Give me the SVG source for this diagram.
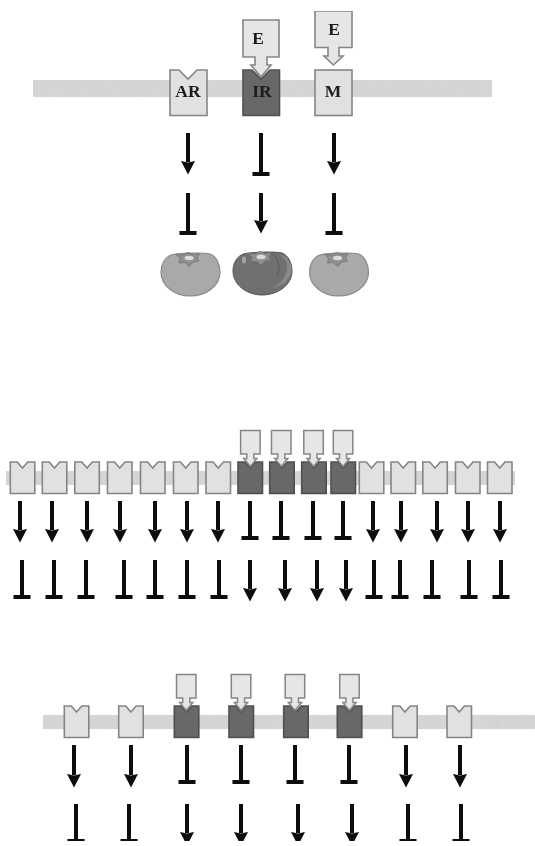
<svg xmlns="http://www.w3.org/2000/svg" width="535" height="846" viewBox="0 0 535 846">
<style>
.band{fill:#d6d6d6;filter:url(#mottle)}
.l{fill:#e1e1e1;stroke:#858585;stroke-width:1.600}
.d{fill:#676767;stroke:#505050;stroke-width:1.600}
.lig{fill:#e6e6e6;stroke:#858585;stroke-width:1.600}
.ligd{fill:#e6e6e6;stroke:#858585;stroke-width:1.500}
.a{stroke:#0a0a0a;stroke-width:4;fill:none;marker-end:url(#arrow)}
.t{stroke:#0a0a0a;stroke-width:4;fill:none;marker-end:url(#tee)}
text{font-family:"Liberation Serif",serif;font-weight:bold;font-size:17.500px;text-anchor:middle;fill:#1a1a1a}
.tom{fill:#a9a9a9;stroke:#8a8a8a;stroke-width:1.200}
.cal{fill:#8f8f8f;stroke:#6e6e6e;stroke-width:.8}
</style>
<defs>
<filter id="mottle" x="0" y="0" width="100%" height="100%"><feTurbulence type="fractalNoise" baseFrequency="0.12 0.25" numOctaves="2" seed="4" result="n"/><feColorMatrix in="n" type="matrix" values="0 0 0 0 .62  0 0 0 0 .62  0 0 0 0 .62  .9 0 0 0 -.33" result="c"/><feComposite in="c" in2="SourceGraphic" operator="in" result="m"/><feMerge><feMergeNode in="SourceGraphic"/><feMergeNode in="m"/></feMerge></filter>
<filter id="soft" x="0" y="0" width="100%" height="100%"><feGaussianBlur stdDeviation="0.55"/></filter>
<marker id="arrow" markerUnits="userSpaceOnUse" markerWidth="15" markerHeight="15" refX="1" refY="7.500" orient="auto"><path d="M0,0.500L13.500,7.500L0,14.500L1.500,7.500Z" fill="#0a0a0a"/></marker>
<marker id="tee" markerUnits="userSpaceOnUse" markerWidth="4" markerHeight="18" refX="2" refY="9" orient="auto"><rect x="0" y="0.500" width="4" height="17" fill="#0a0a0a"/></marker>
<polygon id="rec" points="0,0 7,0 12.200,6 17.500,0 24.500,0 24.500,31.500 0,31.500"/>
<polygon id="ligS" points="0,0 19.500,0 19.500,23.500 13.300,23.500 13.300,28 16.300,28 9.750,36 3.200,28 6.200,28 6.200,23.500 0,23.500"/>
<path id="tomShape" d="M172,254.800C180,253 203,252.300 210,254C216,256 220,264 220,272C220,286 206,296 190,296C175,296 161,286 161,272C161,264 165,257 172,254.800Z"/>
<g id="calyx"><polygon class="cal" points="176,254.500 182,255 188,252.500 193,254.500 199.500,253.500 197,258 199,261 193,262 189,266.500 185,262.500 179,263 180,258.500"/><ellipse cx="189" cy="258" rx="4.500" ry="2.200" fill="#dcdcdc"/></g>
</defs>
<g filter="url(#soft)">
<rect class="band" x="33" y="80" width="459" height="17"/>
<rect class="band" x="6" y="471" width="509" height="14"/>
<rect class="band" x="43" y="715" width="492" height="14"/>

<g id="connectors">
<line class="a" x1="188" y1="133" x2="188" y2="162"/>
<line class="t" x1="261" y1="133" x2="261" y2="174"/>
<line class="a" x1="334" y1="133" x2="334" y2="162"/>
<line class="t" x1="188" y1="193" x2="188" y2="233"/>
<line class="a" x1="261" y1="193" x2="261" y2="221"/>
<line class="t" x1="334" y1="193" x2="334" y2="233"/>

<line class="a" x1="20" y1="501" x2="20" y2="530"/><line class="a" x1="52" y1="501" x2="52" y2="530"/><line class="a" x1="87" y1="501" x2="87" y2="530"/><line class="a" x1="120" y1="501" x2="120" y2="530"/><line class="a" x1="155" y1="501" x2="155" y2="530"/><line class="a" x1="187" y1="501" x2="187" y2="530"/><line class="a" x1="218" y1="501" x2="218" y2="530"/>
<line class="t" x1="250" y1="501" x2="250" y2="538"/><line class="t" x1="281" y1="501" x2="281" y2="538"/><line class="t" x1="313" y1="501" x2="313" y2="538"/><line class="t" x1="343" y1="501" x2="343" y2="538"/>
<line class="a" x1="373" y1="501" x2="373" y2="530"/><line class="a" x1="401" y1="501" x2="401" y2="530"/><line class="a" x1="437" y1="501" x2="437" y2="530"/><line class="a" x1="468" y1="501" x2="468" y2="530"/><line class="a" x1="500" y1="501" x2="500" y2="530"/>

<line class="t" x1="22" y1="560" x2="22" y2="597"/><line class="t" x1="54" y1="560" x2="54" y2="597"/><line class="t" x1="86" y1="560" x2="86" y2="597"/><line class="t" x1="124" y1="560" x2="124" y2="597"/><line class="t" x1="155" y1="560" x2="155" y2="597"/><line class="t" x1="187" y1="560" x2="187" y2="597"/><line class="t" x1="219" y1="560" x2="219" y2="597"/>
<line class="a" x1="250" y1="560" x2="250" y2="589"/><line class="a" x1="285" y1="560" x2="285" y2="589"/><line class="a" x1="317" y1="560" x2="317" y2="589"/><line class="a" x1="346" y1="560" x2="346" y2="589"/>
<line class="t" x1="374" y1="560" x2="374" y2="597"/><line class="t" x1="400" y1="560" x2="400" y2="597"/><line class="t" x1="432" y1="560" x2="432" y2="597"/><line class="t" x1="469" y1="560" x2="469" y2="597"/><line class="t" x1="501" y1="560" x2="501" y2="597"/>

<line class="a" x1="74" y1="745" x2="74" y2="775"/><line class="a" x1="131" y1="745" x2="131" y2="775"/>
<line class="t" x1="187" y1="745" x2="187" y2="782"/><line class="t" x1="241" y1="745" x2="241" y2="782"/><line class="t" x1="295" y1="745" x2="295" y2="782"/><line class="t" x1="349" y1="745" x2="349" y2="782"/>
<line class="a" x1="406" y1="745" x2="406" y2="775"/><line class="a" x1="460" y1="745" x2="460" y2="775"/>

<line class="t" x1="76" y1="804" x2="76" y2="841"/><line class="t" x1="129" y1="804" x2="129" y2="841"/>
<line class="a" x1="187" y1="804" x2="187" y2="833"/><line class="a" x1="241" y1="804" x2="241" y2="833"/><line class="a" x1="298" y1="804" x2="298" y2="833"/><line class="a" x1="352" y1="804" x2="352" y2="833"/>
<line class="t" x1="408" y1="804" x2="408" y2="841"/><line class="t" x1="461" y1="804" x2="461" y2="841"/>
</g>

<g id="node-AR"><polygon class="l" points="170,70 179,70 188,79 197,70 207,70 207,115.500 170,115.500"/><text x="188" y="97">AR</text></g>
<g id="node-IR"><polygon class="d" points="243,70 252,70 261,79 270,70 279.500,70 279.500,115.500 243,115.500"/><polygon class="lig" points="243,20 279,20 279,57 267,57 267,65 271,65 261,77 251,65 255,65 255,57 243,57"/><text x="258" y="43.500">E</text><text x="262" y="97">IR</text></g>
<g id="node-M"><rect class="l" x="315" y="70" width="37" height="45.500"/><polygon class="lig" points="315,11 352,11 352,47.500 339,47.500 339,56 343,56 333.500,65 324,56 328,56 328,47.500 315,47.500"/><text x="334" y="34.500">E</text><text x="333" y="97">M</text></g>

<g id="tomato-1"><use href="#tomShape" class="tom"/><use href="#calyx"/></g>
<g id="tomato-2" transform="translate(72,-1)"><use href="#tomShape" fill="#6f6f6f" stroke="#555"/><path d="M206,255C214,258 217,266 214,274C212,281 206,286 201,289C210,287 219,280 219.500,271C220,263 214,256 206,255Z" fill="#8a8a8a"/><path d="M198,254C207,258 209,268 205,277" fill="none" stroke="#5a5a5a" stroke-width="1"/><ellipse cx="172" cy="261" rx="2" ry="3.500" fill="#a5a5a5"/><use href="#calyx"/></g>
<g id="tomato-3" transform="translate(148.500,0)"><use href="#tomShape" class="tom"/><use href="#calyx"/></g>

<g id="r2-1"><use href="#rec" class="l" x="10.300" y="462"/></g>
<g id="r2-2"><use href="#rec" class="l" x="42.300" y="462"/></g>
<g id="r2-3"><use href="#rec" class="l" x="74.800" y="462"/></g>
<g id="r2-4"><use href="#rec" class="l" x="107.500" y="462"/></g>
<g id="r2-5"><use href="#rec" class="l" x="140.500" y="462"/></g>
<g id="r2-6"><use href="#rec" class="l" x="173.500" y="462"/></g>
<g id="r2-7"><use href="#rec" class="l" x="206" y="462"/></g>
<g id="r2-8"><use href="#rec" class="d" x="238" y="462"/><use href="#ligS" class="ligd" x="240.600" y="430.500"/></g>
<g id="r2-9"><use href="#rec" class="d" x="269.700" y="462"/><use href="#ligS" class="ligd" x="271.500" y="430.500"/></g>
<g id="r2-10"><use href="#rec" class="d" x="301.700" y="462"/><use href="#ligS" class="ligd" x="303.800" y="430.500"/></g>
<g id="r2-11"><use href="#rec" class="d" x="331" y="462"/><use href="#ligS" class="ligd" x="333.300" y="430.500"/></g>
<g id="r2-12"><use href="#rec" class="l" x="359.300" y="462"/></g>
<g id="r2-13"><use href="#rec" class="l" x="391" y="462"/></g>
<g id="r2-14"><use href="#rec" class="l" x="422.800" y="462"/></g>
<g id="r2-15"><use href="#rec" class="l" x="455.500" y="462"/></g>
<g id="r2-16"><use href="#rec" class="l" x="487.500" y="462"/></g>

<g id="r3-1"><use href="#rec" class="l" x="64.300" y="706"/></g>
<g id="r3-2"><use href="#rec" class="l" x="118.700" y="706"/></g>
<g id="r3-3"><use href="#rec" class="d" x="174.300" y="706"/><use href="#ligS" class="ligd" x="176.500" y="674.500"/></g>
<g id="r3-4"><use href="#rec" class="d" x="229" y="706"/><use href="#ligS" class="ligd" x="231.300" y="674.500"/></g>
<g id="r3-5"><use href="#rec" class="d" x="283.700" y="706"/><use href="#ligS" class="ligd" x="285.200" y="674.500"/></g>
<g id="r3-6"><use href="#rec" class="d" x="337.300" y="706"/><use href="#ligS" class="ligd" x="339.700" y="674.500"/></g>
<g id="r3-7"><use href="#rec" class="l" x="392.700" y="706"/></g>
<g id="r3-8"><use href="#rec" class="l" x="447" y="706"/></g>
</g>
</svg>
